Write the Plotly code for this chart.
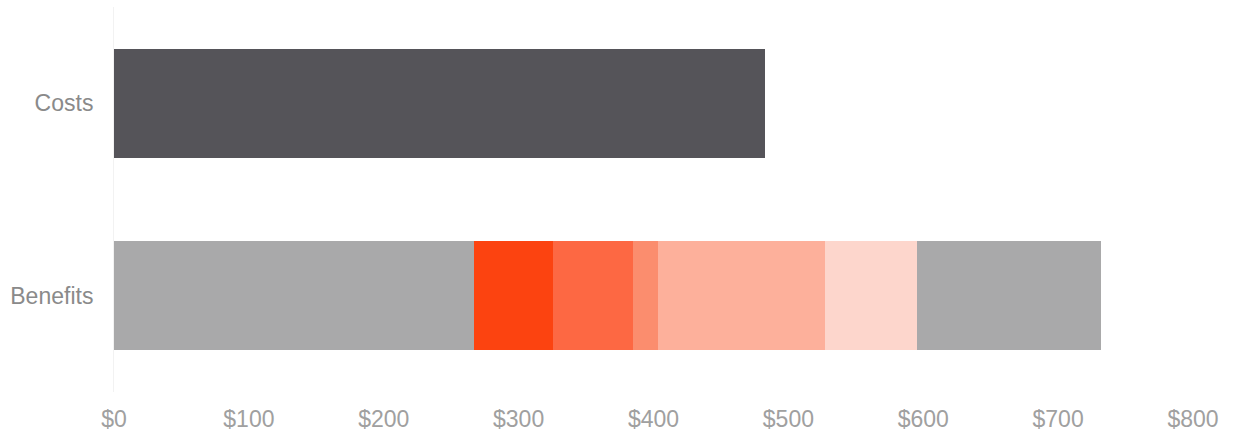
import plotly.graph_objects as go

categories = ["Benefits", "Costs"]
costs_value = 483
benefit_segments = [267, 58.5, 59, 19, 123.5, 68, 137]
benefit_colors = ["#a9a9aa", "#fc4310", "#fd6843", "#fb8d6e", "#fdb09b", "#fdd6cc", "#a9a9aa"]
tick_vals = [0, 100, 200, 300, 400, 500, 600, 700, 800]
tick_text = ["$0", "$100", "$200", "$300", "$400", "$500", "$600", "$700", "$800"]

fig = go.Figure()
fig.add_trace(go.Bar(
    y=["Costs"], x=[costs_value], orientation="h",
    marker=dict(color="#555459", line=dict(width=0)),
    width=0.565, showlegend=False, hoverinfo="x",
))
for v, c in zip(benefit_segments, benefit_colors):
    fig.add_trace(go.Bar(
        y=["Benefits"], x=[v], orientation="h",
        marker=dict(color=c, line=dict(width=0)),
        width=0.565, showlegend=False, hoverinfo="x",
    ))

fig.update_layout(
    barmode="stack",
    width=1236, height=435,
    margin=dict(l=114, r=43, t=7, b=43),
    paper_bgcolor="white", plot_bgcolor="white",
    font=dict(family="Liberation Sans, Arial, sans-serif", color="#8a8a8a"),
    bargap=0,
)
fig.update_xaxes(
    range=[0, 800], tickvals=tick_vals, ticktext=tick_text, automargin=False,
    showgrid=False, zeroline=False, showline=False,
    tickfont=dict(size=23, color="#a0a0a0"), ticklabelstandoff=11,
)
fig.update_yaxes(
    categoryorder="array", categoryarray=categories, automargin=False,
    range=[-0.5, 1.5],
    showgrid=False, zeroline=False, showline=True, linecolor="#f2f2f2", linewidth=1,
    tickfont=dict(size=23, color="#8a8a8a"), ticklabelstandoff=15,
)
fig.write_html("out.html")
